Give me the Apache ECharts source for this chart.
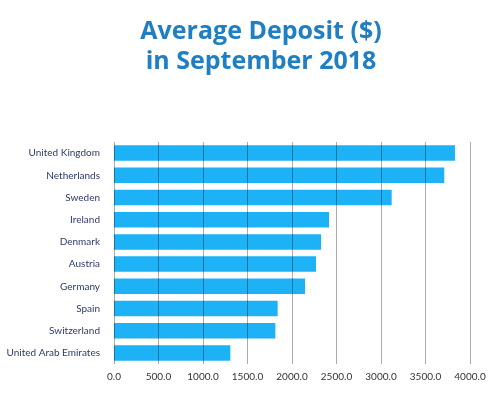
<!DOCTYPE html>
<html>
<head>
<meta charset="utf-8">
<script src="https://cdn.jsdelivr.net/npm/echarts@6/dist/echarts.min.js"></script>
<style>html,body{margin:0;padding:0;background:#fff;}#c{width:496px;height:397px;}</style>
</head>
<body>
<div id="c"></div>
<script>
var categories = ["United Kingdom","Netherlands","Sweden","Ireland","Denmark","Austria","Germany","Spain","Switzerland","United Arab Emirates"];
var values = [3831, 3711, 3120, 2416, 2326, 2270, 2146, 1839, 1813, 1307];
var xTicks = [0, 500, 1000, 1500, 2000, 2500, 3000, 3500, 4000];

var chart = echarts.init(document.getElementById('c'));
chart.setOption({
  backgroundColor: '#fff',
  animation: false,
  title: {
    text: 'Average Deposit ($)\nin September 2018',
    left: 256,
    textAlign: 'center',
    top: 12,
    textStyle: {
      fontFamily: 'Open Sans',
      fontWeight: 'bold',
      fontSize: 25,
      lineHeight: 30,
      color: '#1f7fc2'
    }
  },
  grid: { left: 114, right: 26, top: 142, bottom: 33 },
  xAxis: {
    type: 'value',
    min: xTicks[0],
    max: xTicks[xTicks.length - 1],
    interval: 500,
    z: 5,
    axisLine: { show: false },
    axisTick: { show: false },
    axisLabel: {
      color: '#333',
      fontFamily: 'Lato',
      fontSize: 10,
      margin: 8,
      formatter: function (v) { return v.toFixed(1); }
    },
    splitLine: { show: true, lineStyle: { color: 'rgba(0,0,0,0.33)', width: 1 } }
  },
  yAxis: {
    type: 'category',
    data: categories,
    inverse: true,
    axisLine: { show: false },
    axisTick: { show: false },
    axisLabel: { color: '#2b3b6b', fontFamily: 'Lato', fontSize: 10, margin: 14 }
  },
  series: [{
    type: 'bar',
    data: values,
    barCategoryGap: '30%',
    itemStyle: { color: '#1db1f6' }
  }]
});
</script>
</body>
</html>
